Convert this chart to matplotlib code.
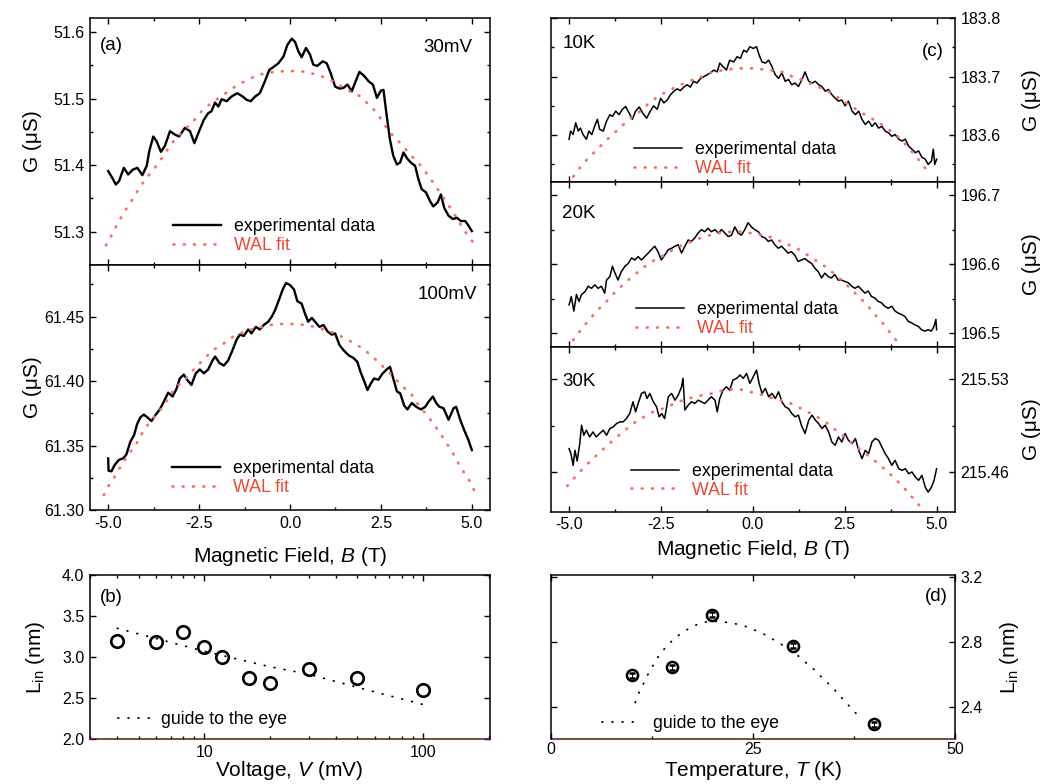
import numpy as np
import matplotlib
matplotlib.use("Agg")
import matplotlib.pyplot as plt
from matplotlib.ticker import MultipleLocator, FixedLocator, LogLocator, NullFormatter

plt.rcParams["font.family"] = ["Liberation Sans", "DejaVu Sans"]
plt.rcParams["axes.unicode_minus"] = False
plt.rcParams["mathtext.fontset"] = "custom"
plt.rcParams["mathtext.rm"] = "Liberation Sans"
plt.rcParams["mathtext.it"] = "Liberation Sans:italic"

# (a) 30 mV
b_30mv = [-5.00, -4.91, -4.79, -4.70, -4.57, -4.45, -4.33, -4.20, -4.06, -3.94,
          -3.87, -3.76, -3.67, -3.55, -3.44, -3.30, -3.17, -3.05, -2.89, -2.75,
          -2.63, -2.50, -2.37, -2.25, -2.16, -2.06, -1.97, -1.88, -1.74, -1.61,
          -1.45, -1.30, -1.19, -1.08, -0.96, -0.83, -0.69, -0.57, -0.44, -0.32,
          -0.18, -0.07, 0.05, 0.14, 0.23, 0.32, 0.44, 0.55, 0.64, 0.75,
          0.90, 1.01, 1.12, 1.24, 1.36, 1.47, 1.58, 1.70, 1.79, 1.91,
          2.04, 2.16, 2.28, 2.39, 2.50, 2.57, 2.66, 2.75, 2.84, 2.94,
          3.03, 3.12, 3.21, 3.32, 3.44, 3.53, 3.62, 3.74, 3.85, 3.94,
          4.06, 4.15, 4.24, 4.36, 4.48, 4.59, 4.70, 4.82, 4.91, 5.00]
g_30mv = [51.391, 51.383, 51.371, 51.376, 51.396, 51.386, 51.393, 51.396, 51.385, 51.399,
          51.421, 51.443, 51.436, 51.420, 51.429, 51.451, 51.446, 51.443, 51.456, 51.451,
          51.433, 51.451, 51.468, 51.478, 51.481, 51.494, 51.488, 51.499, 51.496, 51.503,
          51.508, 51.503, 51.498, 51.496, 51.503, 51.508, 51.526, 51.543, 51.548, 51.553,
          51.563, 51.581, 51.590, 51.585, 51.571, 51.562, 51.576, 51.566, 51.551, 51.549,
          51.556, 51.553, 51.538, 51.518, 51.515, 51.516, 51.521, 51.511, 51.524, 51.540,
          51.534, 51.526, 51.521, 51.501, 51.512, 51.513, 51.474, 51.438, 51.414, 51.401,
          51.404, 51.419, 51.411, 51.404, 51.399, 51.379, 51.364, 51.359, 51.346, 51.338,
          51.344, 51.356, 51.336, 51.324, 51.319, 51.321, 51.316, 51.316, 51.309, 51.301]
bfit_30mv = [-5.06, -4.93, -4.78, -4.62, -4.46, -4.29, -4.13, -3.94, -3.72, -3.53,
             -3.35, -3.17, -2.94, -2.66, -2.43, -2.16, -1.88, -1.61, -1.33, -1.06,
             -0.73, -0.37, 0.00, 0.37, 0.73, 1.10, 1.38, 1.65, 1.93, 2.16,
             2.39, 2.61, 2.84, 3.07, 3.30, 3.53, 3.74, 3.94, 4.13, 4.31,
             4.50, 4.66, 4.82, 5.03]
gfit_30mv = [51.2795, 51.2925, 51.3085, 51.3235, 51.3385, 51.352, 51.367, 51.381, 51.396, 51.41,
             51.425, 51.4385, 51.451, 51.466, 51.481, 51.4935, 51.5035, 51.5145, 51.5235, 51.531,
             51.5375, 51.5405, 51.5415, 51.5405, 51.536, 51.5285, 51.5195, 51.511, 51.5035, 51.491,
             51.4785, 51.4595, 51.4435, 51.431, 51.416, 51.4035, 51.3885, 51.3735, 51.3585, 51.3435,
             51.3285, 51.3135, 51.2995, 51.2845]

# (a) 100 mV
b_100mv = [-5.00, -4.99, -4.91, -4.82, -4.70, -4.59, -4.50, -4.39, -4.29, -4.20,
           -4.11, -4.02, -3.93, -3.81, -3.69, -3.58, -3.47, -3.35, -3.23, -3.12,
           -3.03, -2.92, -2.83, -2.71, -2.59, -2.48, -2.37, -2.25, -2.13, -2.06,
           -1.94, -1.82, -1.70, -1.58, -1.47, -1.38, -1.27, -1.15, -1.06, -0.94,
           -0.83, -0.72, -0.60, -0.50, -0.41, -0.29, -0.20, -0.11, 0.00, 0.11,
           0.20, 0.32, 0.41, 0.50, 0.60, 0.69, 0.81, 0.92, 1.03, 1.15,
           1.24, 1.36, 1.47, 1.61, 1.74, 1.85, 1.94, 2.04, 2.13, 2.22,
           2.31, 2.43, 2.55, 2.66, 2.75, 2.84, 2.94, 3.03, 3.14, 3.23,
           3.35, 3.47, 3.60, 3.72, 3.81, 3.93, 4.02, 4.11, 4.22, 4.36,
           4.50, 4.57, 4.68, 4.79, 4.91, 5.00]
g_100mv = [61.340, 61.3305, 61.330, 61.335, 61.339, 61.340, 61.343, 61.353, 61.358, 61.367,
           61.372, 61.374, 61.372, 61.369, 61.374, 61.378, 61.384, 61.391, 61.388, 61.394,
           61.402, 61.405, 61.401, 61.397, 61.406, 61.409, 61.406, 61.409, 61.416, 61.419,
           61.414, 61.412, 61.416, 61.424, 61.432, 61.436, 61.435, 61.440, 61.437, 61.442,
           61.440, 61.4435, 61.446, 61.450, 61.455, 61.464, 61.471, 61.476, 61.4745, 61.471,
           61.462, 61.460, 61.4525, 61.446, 61.449, 61.446, 61.442, 61.4435, 61.4385, 61.436,
           61.437, 61.428, 61.424, 61.420, 61.418, 61.415, 61.407, 61.400, 61.393, 61.398,
           61.402, 61.401, 61.406, 61.409, 61.411, 61.402, 61.392, 61.3905, 61.381, 61.378,
           61.383, 61.380, 61.378, 61.380, 61.384, 61.388, 61.383, 61.380, 61.379, 61.370,
           61.379, 61.380, 61.370, 61.362, 61.354, 61.3465]
bfit_100mv = [-5.12, -4.99, -4.82, -4.63, -4.45, -4.22, -3.99, -3.76, -3.49, -3.17,
              -2.89, -2.66, -2.39, -2.11, -1.88, -1.56, -1.24, -0.92, -0.55, -0.23,
              0.00, 0.28, 0.64, 0.96, 1.24, 1.51, 1.79, 2.06, 2.34, 2.57,
              2.84, 3.07, 3.35, 3.53, 3.76, 3.94, 4.13, 4.31, 4.48, 4.63,
              4.77, 4.95, 5.09]
gfit_100mv = [61.3116, 61.3186, 61.3259, 61.335, 61.3427, 61.3517, 61.3634, 61.3711, 61.3802, 61.3944,
              61.4009, 61.4086, 61.4164, 61.4241, 61.428, 61.4345, 61.4384, 61.441, 61.4435, 61.4443,
              61.4443, 61.444, 61.4422, 61.4397, 61.437, 61.433, 61.429, 61.424, 61.417, 61.411,
              61.4034, 61.3965, 61.3892, 61.3815, 61.3737, 61.3672, 61.3595, 61.3517, 61.344, 61.3362,
              61.3297, 61.322, 61.3137]

# (c) 10 K
b_10k = [-5.00, -4.96, -4.89, -4.82, -4.75, -4.69, -4.62, -4.53, -4.46, -4.38,
         -4.30, -4.23, -4.17, -4.07, -3.98, -3.89, -3.82, -3.73, -3.64, -3.55,
         -3.46, -3.37, -3.28, -3.19, -3.09, -3.00, -2.89, -2.79, -2.70, -2.60,
         -2.51, -2.42, -2.33, -2.24, -2.15, -2.06, -1.97, -1.88, -1.79, -1.70,
         -1.61, -1.52, -1.42, -1.33, -1.24, -1.15, -1.06, -0.97, -0.90, -0.81,
         -0.72, -0.63, -0.52, -0.43, -0.34, -0.25, -0.17, -0.08, 0.01, 0.10,
         0.17, 0.25, 0.34, 0.43, 0.52, 0.61, 0.70, 0.79, 0.88, 0.97,
         1.06, 1.15, 1.24, 1.35, 1.42, 1.52, 1.61, 1.70, 1.79, 1.88,
         1.97, 2.06, 2.15, 2.24, 2.33, 2.42, 2.51, 2.60, 2.70, 2.79,
         2.88, 2.97, 3.06, 3.15, 3.24, 3.33, 3.42, 3.51, 3.60, 3.69,
         3.78, 3.87, 3.97, 4.06, 4.15, 4.24, 4.33, 4.42, 4.51, 4.60,
         4.69, 4.77, 4.86, 4.91, 4.95, 5.00]
g_10k = [183.593, 183.607, 183.601, 183.621, 183.607, 183.612, 183.601, 183.593, 183.607, 183.601,
         183.616, 183.627, 183.610, 183.607, 183.624, 183.635, 183.632, 183.641, 183.635, 183.644,
         183.649, 183.638, 183.627, 183.641, 183.648, 183.638, 183.629, 183.641, 183.650, 183.644,
         183.663, 183.655, 183.660, 183.669, 183.675, 183.679, 183.676, 183.682, 183.686, 183.682,
         183.692, 183.689, 183.697, 183.700, 183.703, 183.707, 183.711, 183.708, 183.723, 183.717,
         183.711, 183.728, 183.725, 183.734, 183.731, 183.745, 183.742, 183.751, 183.748, 183.751,
         183.737, 183.725, 183.723, 183.728, 183.717, 183.703, 183.697, 183.706, 183.692, 183.695,
         183.686, 183.689, 183.683, 183.697, 183.708, 183.692, 183.689, 183.692, 183.686, 183.683,
         183.675, 183.678, 183.669, 183.663, 183.658, 183.660, 183.650, 183.658, 183.641, 183.635,
         183.641, 183.627, 183.618, 183.624, 183.615, 183.621, 183.612, 183.615, 183.607, 183.604,
         183.598, 183.601, 183.593, 183.590, 183.593, 183.581, 183.576, 183.570, 183.573, 183.562,
         183.559, 183.550, 183.556, 183.576, 183.550, 183.559]
bfit_10k = [-5.05, -4.85, -4.64, -4.39, -4.15, -3.89, -3.62, -3.37, -3.12, -2.85, -2.58,
            -2.30, -2.03, -1.76, -1.49, -1.22, -0.99, -0.72, -0.44, -0.17, 0.10,
            0.37, 0.60, 0.87, 1.10, 1.37, 1.64, 1.91, 2.14, 2.41, 2.69,
            2.91, 3.19, 3.46, 3.73, 4.00, 4.27, 4.50, 4.71]
gfit_10k = [183.515, 183.532, 183.550, 183.566, 183.581, 183.597, 183.612, 183.627, 183.638, 183.653, 183.666,
            183.676, 183.684, 183.692, 183.697, 183.705, 183.709, 183.712, 183.714, 183.714, 183.714,
            183.711, 183.710, 183.707, 183.699, 183.694, 183.686, 183.679, 183.672, 183.660, 183.649,
            183.640, 183.630, 183.620, 183.608, 183.595, 183.576, 183.559, 183.542]

# (c) 20 K
b_20k = [-5.00, -4.94, -4.87, -4.80, -4.73, -4.66, -4.57, -4.48, -4.39, -4.30,
         -4.21, -4.12, -4.03, -3.98, -3.89, -3.82, -3.75, -3.67, -3.58, -3.48,
         -3.39, -3.30, -3.21, -3.12, -3.03, -2.94, -2.85, -2.76, -2.67, -2.58,
         -2.49, -2.40, -2.30, -2.21, -2.12, -2.03, -1.94, -1.85, -1.76, -1.67,
         -1.58, -1.49, -1.40, -1.31, -1.22, -1.13, -1.03, -0.94, -0.85, -0.76,
         -0.67, -0.58, -0.49, -0.40, -0.31, -0.22, -0.13, -0.04, 0.05, 0.15,
         0.24, 0.33, 0.42, 0.51, 0.60, 0.69, 0.78, 0.87, 0.96, 1.05,
         1.14, 1.23, 1.32, 1.42, 1.51, 1.60, 1.69, 1.78, 1.87, 1.96,
         2.05, 2.14, 2.23, 2.32, 2.41, 2.50, 2.60, 2.69, 2.78, 2.87,
         2.96, 3.05, 3.14, 3.23, 3.32, 3.41, 3.50, 3.59, 3.68, 3.78,
         3.87, 3.96, 4.05, 4.14, 4.23, 4.32, 4.41, 4.50, 4.59, 4.68,
         4.77, 4.86, 4.93, 4.98, 5.00]
g_20k = [196.541, 196.553, 196.532, 196.556, 196.546, 196.556, 196.560, 196.568, 196.565, 196.570,
         196.565, 196.568, 196.558, 196.577, 196.582, 196.597, 196.587, 196.577, 196.589, 196.597,
         196.601, 196.609, 196.606, 196.611, 196.606, 196.611, 196.616, 196.621, 196.626, 196.618,
         196.606, 196.613, 196.621, 196.623, 196.626, 196.628, 196.616, 196.626, 196.635, 196.633,
         196.638, 196.645, 196.650, 196.647, 196.652, 196.647, 196.650, 196.645, 196.650, 196.645,
         196.640, 196.642, 196.654, 196.645, 196.642, 196.650, 196.660, 196.654, 196.650, 196.647,
         196.640, 196.638, 196.633, 196.635, 196.628, 196.623, 196.626, 196.621, 196.616, 196.618,
         196.613, 196.604, 196.606, 196.608, 196.604, 196.601, 196.594, 196.589, 196.580, 196.587,
         196.582, 196.580, 196.585, 196.577, 196.577, 196.575, 196.573, 196.568, 196.565, 196.568,
         196.563, 196.558, 196.561, 196.553, 196.551, 196.546, 196.544, 196.539, 196.536, 196.539,
         196.532, 196.529, 196.527, 196.524, 196.517, 196.515, 196.512, 196.510, 196.505, 196.503,
         196.505, 196.503, 196.510, 196.520, 196.505]
bfit_20k = [-4.89, -4.69, -4.46, -4.23, -4.00, -3.74, -3.48, -3.21, -2.96, -2.70,
            -2.42, -2.17, -1.90, -1.62, -1.37, -1.10, -0.83, -0.56, -0.31, -0.06,
            0.19, 0.44, 0.71, 0.98, 1.23, 1.49, 1.75, 2.01, 2.28, 2.55,
            2.80, 3.07, 3.32, 3.50, 3.73, 3.94]
gfit_20k = [196.490, 196.504, 196.519, 196.533, 196.545, 196.560, 196.573, 196.585, 196.596, 196.605,
            196.613, 196.621, 196.628, 196.634, 196.639, 196.643, 196.646, 196.647, 196.647, 196.645,
            196.643, 196.640, 196.634, 196.628, 196.622, 196.613, 196.604, 196.595, 196.583, 196.570,
            196.557, 196.543, 196.527, 196.517, 196.501, 196.487]

# (c) 30 K
b_30k = [-5.00, -4.95, -4.89, -4.84, -4.78, -4.71, -4.66, -4.60, -4.53, -4.44,
         -4.35, -4.26, -4.17, -4.07, -3.98, -3.89, -3.80, -3.71, -3.62, -3.53,
         -3.44, -3.35, -3.26, -3.19, -3.12, -3.03, -2.94, -2.88, -2.80, -2.71,
         -2.62, -2.55, -2.48, -2.40, -2.30, -2.21, -2.12, -2.03, -1.94, -1.90,
         -1.85, -1.76, -1.67, -1.58, -1.49, -1.40, -1.31, -1.22, -1.13, -1.03,
         -0.97, -0.90, -0.81, -0.72, -0.63, -0.54, -0.44, -0.35, -0.26, -0.17,
         -0.08, 0.01, 0.10, 0.17, 0.25, 0.34, 0.43, 0.52, 0.61, 0.70,
         0.79, 0.88, 0.97, 1.06, 1.15, 1.24, 1.32, 1.42, 1.52, 1.61,
         1.70, 1.79, 1.88, 1.97, 2.06, 2.15, 2.24, 2.33, 2.42, 2.51,
         2.60, 2.70, 2.79, 2.88, 2.97, 3.06, 3.15, 3.24, 3.33, 3.42,
         3.51, 3.60, 3.69, 3.78, 3.87, 3.97, 4.06, 4.15, 4.24, 4.33,
         4.42, 4.51, 4.60, 4.69, 4.77, 4.86, 4.93, 5.00]
g_30k = [215.4777, 215.4739, 215.4650, 215.4764, 215.4683, 215.4815, 215.4954, 215.4878, 215.4916, 215.4865,
         215.4903, 215.4865, 215.4891, 215.4916, 215.4878, 215.4929, 215.4941, 215.4966, 215.4979, 215.4979,
         215.5004, 215.5042, 215.5131, 215.5055, 215.5118, 215.5194, 215.5206, 215.5156, 215.5194, 215.5131,
         215.5093, 215.5017, 215.5042, 215.5004, 215.5169, 215.5194, 215.5143, 215.5181, 215.5244, 215.5308,
         215.5068, 215.5105, 215.5131, 215.5118, 215.5143, 215.5131, 215.5118, 215.5143, 215.5169, 215.5143,
         215.5055, 215.5156, 215.5219, 215.5244, 215.5219, 215.5295, 215.5308, 215.5333, 215.5308, 215.5345,
         215.5270, 215.5320, 215.5371, 215.5270, 215.5194, 215.5232, 215.5169, 215.5194, 215.5156, 215.5206,
         215.5131, 215.5093, 215.5080, 215.5042, 215.5017, 215.5030, 215.4954, 215.4891, 215.4992, 215.5030,
         215.4992, 215.4966, 215.4929, 215.4954, 215.4903, 215.4827, 215.4802, 215.4865, 215.4827, 215.4891,
         215.4840, 215.4815, 215.4853, 215.4764, 215.4701, 215.4764, 215.4739, 215.4827, 215.4853, 215.4840,
         215.4790, 215.4739, 215.4701, 215.4650, 215.4688, 215.4625, 215.4613, 215.4625, 215.4587, 215.4600,
         215.4562, 215.4537, 215.4575, 215.4486, 215.4448, 215.4486, 215.4537, 215.4625]
bfit_30k = [-5.05, -4.82, -4.57, -4.30, -4.03, -3.77, -3.50, -3.26, -2.99, -2.71,
            -2.44, -2.17, -1.91, -1.64, -1.37, -1.11, -0.85, -0.60, -0.34, -0.08,
            0.19, 0.46, 0.74, 0.99, 1.23, 1.49, 1.75, 2.01, 2.28, 2.53,
            2.78, 3.03, 3.30, 3.55, 3.82, 4.07, 4.29, 4.53]
gfit_30k = [215.4494, 215.4567, 215.4643, 215.4714, 215.4784, 215.4848, 215.4911, 215.4967, 215.5012, 215.5055,
            215.5080, 215.5113, 215.5143, 215.5164, 215.5181, 215.5194, 215.5214, 215.5224, 215.5224, 215.5206,
            215.5189, 215.5164, 215.5143, 215.5123, 215.5092, 215.5055, 215.5017, 215.4971, 215.4911, 215.4860,
            215.4800, 215.4745, 215.4690, 215.4630, 215.4562, 215.4494, 215.4423, 215.4347]

# (b) L_in vs voltage
voltage = [4, 6, 8, 10, 12, 16, 20, 30, 50, 100]
lin_v = [3.19, 3.18, 3.30, 3.12, 3.00, 2.74, 2.68, 2.85, 2.74, 2.60]
guide_v = [4, 10, 20, 30, 50, 100]
guide_lin_v = [3.35, 3.07, 2.88, 2.79, 2.63, 2.42]

# (d) L_in vs temperature
temp = [10, 15, 20, 30, 40]
lin_t = [2.594, 2.645, 2.968, 2.778, 2.29]
lin_t_err = [0.015, 0.015, 0.015, 0.015, 0.015]
guide_t = [10.46, 10.95, 11.53, 12.07, 12.77, 13.51, 14.58, 15.73, 16.97, 18.17,
           19.36, 20.56, 21.75, 22.95, 24.14, 25.34, 26.53, 27.73, 28.92, 30.12,
           31.31, 32.51, 33.66, 34.86, 35.97, 37.08, 38.15]
guide_lin_t = [2.426, 2.491, 2.548, 2.604, 2.665, 2.726, 2.788, 2.839, 2.880, 2.910,
               2.927, 2.928, 2.922, 2.912, 2.896, 2.872, 2.845, 2.810, 2.774, 2.737,
               2.682, 2.633, 2.575, 2.518, 2.456, 2.395, 2.338]

fit_color = "#f5735e"
fit_text = "#ee4630"
fs_tick = 11.5
fs_label = 15
fs_leg = 12.8
fs_tag = 13.5

fig = plt.figure(figsize=(10.46, 7.84), dpi=100)

W, H = 1046.0, 784.0


def add_ax(x0, x1, y0, y1):
    # pixel box -> figure fraction
    return fig.add_axes([x0 / W, 1 - y1 / H, (x1 - x0) / W, (y1 - y0) / H])


ax_a1 = add_ax(90, 490, 18, 265)
ax_a2 = add_ax(90, 490, 265, 510)
ax_c1 = add_ax(550.7, 955, 18, 182)
ax_c2 = add_ax(550.7, 955, 182, 347)
ax_c3 = add_ax(550.7, 955, 347, 511.7)
ax_b = add_ax(90, 490, 575, 739)
ax_d = add_ax(550.7, 955, 575, 739)

for ax in [ax_a1, ax_a2, ax_c1, ax_c2, ax_c3, ax_b, ax_d]:
    ax.tick_params(which="both", direction="in", top=True, right=True,
                   labelsize=fs_tick, width=1.0, pad=4)
    ax.tick_params(which="major", length=4.5)
    ax.tick_params(which="minor", length=2.5)
    for s in ax.spines.values():
        s.set_linewidth(1.1)


def g_panel(ax, b, g, bf, gf, lw, leg_xy):
    ax.plot(b, g, color="black", lw=lw, label="experimental data")
    ax.plot(bf, gf, color=fit_color, lw=2.0, ls=(0, (0.3, 3.4)),
            dash_capstyle="round", label="WAL fit")
    leg = ax.legend(loc="center left", bbox_to_anchor=leg_xy, frameon=False,
                    fontsize=fs_leg, handlelength=2.7, handletextpad=0.75,
                    labelspacing=0.1, borderpad=0, borderaxespad=0)
    leg.get_texts()[1].set_color(fit_text)
    ax.set_xlim(-5.5, 5.5)
    ax.xaxis.set_major_locator(MultipleLocator(2.5))
    ax.xaxis.set_minor_locator(MultipleLocator(1.25))
    ax.xaxis.set_major_formatter(plt.FormatStrFormatter("%.1f"))


# (a)
g_panel(ax_a1, b_30mv, g_30mv, bfit_30mv, gfit_30mv, 1.7, (0.207, 0.116))
ax_a1.set_ylim(51.25, 51.621)
ax_a1.yaxis.set_major_locator(MultipleLocator(0.1))
ax_a1.yaxis.set_minor_locator(MultipleLocator(0.05))
ax_a1.yaxis.set_major_formatter(plt.FormatStrFormatter("%.1f"))
ax_a1.tick_params(labelbottom=False)
ax_a1.set_ylabel("G (\u03bcS)", fontsize=fs_label)
ax_a1.yaxis.set_label_coords(-0.12, 0.5)
ax_a1.text(0.025, 0.89, "(a)", transform=ax_a1.transAxes, fontsize=fs_tag, va="center", ha="left")
ax_a1.text(0.957, 0.88, "30mV", transform=ax_a1.transAxes, fontsize=fs_tag, va="center", ha="right")

g_panel(ax_a2, b_100mv, g_100mv, bfit_100mv, gfit_100mv, 1.7, (0.204, 0.131))
ax_a2.set_ylim(61.30, 61.49)
ax_a2.yaxis.set_major_locator(FixedLocator([61.30, 61.35, 61.40, 61.45]))
ax_a2.yaxis.set_minor_locator(FixedLocator([61.325, 61.375, 61.425, 61.475]))
ax_a2.yaxis.set_major_formatter(plt.FormatStrFormatter("%.2f"))
ax_a2.set_ylabel("G (\u03bcS)", fontsize=fs_label)
ax_a2.yaxis.set_label_coords(-0.12, 0.5)
ax_a2.set_xlabel("Magnetic Field, $\\it{B}$ (T)", fontsize=fs_label)
ax_a2.xaxis.set_label_coords(0.5, -0.143)
ax_a2.text(0.967, 0.878, "100mV", transform=ax_a2.transAxes, fontsize=fs_tag, va="center", ha="right")

# (c)
g_panel(ax_c1, b_10k, g_10k, bfit_10k, gfit_10k, 1.1, (0.206, 0.139))
ax_c1.set_ylim(183.52, 183.8)
ax_c1.yaxis.set_major_locator(FixedLocator([183.6, 183.7, 183.8]))
ax_c1.yaxis.set_minor_locator(FixedLocator([183.55, 183.65, 183.75]))
ax_c1.yaxis.set_major_formatter(plt.FormatStrFormatter("%.1f"))
ax_c1.text(0.030, 0.846, "10K", transform=ax_c1.transAxes, fontsize=fs_tag, va="center", ha="left")
ax_c1.text(0.971, 0.795, "(c)", transform=ax_c1.transAxes, fontsize=fs_tag, va="center", ha="right")

g_panel(ax_c2, b_20k, g_20k, bfit_20k, gfit_20k, 1.1, (0.211, 0.168))
ax_c2.set_ylim(196.48, 196.719)
ax_c2.yaxis.set_major_locator(FixedLocator([196.5, 196.6, 196.7]))
ax_c2.yaxis.set_minor_locator(FixedLocator([196.55, 196.65]))
ax_c2.yaxis.set_major_formatter(plt.FormatStrFormatter("%.1f"))
ax_c2.text(0.027, 0.81, "20K", transform=ax_c2.transAxes, fontsize=fs_tag, va="center", ha="left")

g_panel(ax_c3, b_30k, g_30k, bfit_30k, gfit_30k, 1.1, (0.198, 0.188))
ax_c3.set_ylim(215.43, 215.5545)
ax_c3.yaxis.set_major_locator(FixedLocator([215.46, 215.53]))
ax_c3.yaxis.set_minor_locator(FixedLocator([215.495]))
ax_c3.yaxis.set_major_formatter(plt.FormatStrFormatter("%.2f"))
ax_c3.text(0.029, 0.789, "30K", transform=ax_c3.transAxes, fontsize=fs_tag, va="center", ha="left")
ax_c3.set_xlabel("Magnetic Field, $\\it{B}$ (T)", fontsize=fs_label)
ax_c3.xaxis.set_label_coords(0.5, -0.162)

for ax in [ax_c1, ax_c2, ax_c3]:
    ax.tick_params(labelleft=False, labelright=True)
    ax.yaxis.set_label_position("right")
    ax.set_ylabel("G (\u03bcS)", fontsize=fs_label)
    ax.yaxis.set_label_coords(1.166, 0.5)
for ax in [ax_c1, ax_c2]:
    ax.tick_params(labelbottom=False)

# (b)
ax_b.plot(guide_v, guide_lin_v, color="black", lw=1.3, ls=(0, (0.4, 5.2)),
          dash_capstyle="round", label="guide to the eye")
ax_b.plot(voltage, lin_v, "o", mfc="none", mec="black", mew=1.9, ms=9)
ax_b.set_xscale("log")
ax_b.set_xlim(3, 202)
ax_b.set_ylim(2.0, 4.0)
ax_b.xaxis.set_major_locator(FixedLocator([10, 100]))
ax_b.xaxis.set_minor_locator(LogLocator(base=10, subs=np.arange(2, 10)))
ax_b.xaxis.set_minor_formatter(NullFormatter())
ax_b.xaxis.set_major_formatter(plt.FormatStrFormatter("%d"))
ax_b.yaxis.set_major_locator(MultipleLocator(0.5))
ax_b.yaxis.set_major_formatter(plt.FormatStrFormatter("%.1f"))
ax_b.set_xlabel("Voltage, $\\it{V}$ (mV)", fontsize=fs_label)
ax_b.xaxis.set_label_coords(0.4975, -0.122)
ax_b.set_ylabel("L$_{\\rm in}$ (nm)", fontsize=fs_label)
ax_b.yaxis.set_label_coords(-0.1075, 0.5)
ax_b.legend(loc="center left", bbox_to_anchor=(0.07, 0.116), frameon=False,
            fontsize=fs_leg, handlelength=2.0, handletextpad=0.4,
            borderpad=0, borderaxespad=0)
ax_b.text(0.025, 0.86, "(b)", transform=ax_b.transAxes, fontsize=fs_tag, va="center", ha="left")

# (d)
ax_d.plot(guide_t, guide_lin_t, color="black", lw=1.3, ls=(0, (0.4, 5.2)),
          dash_capstyle="round", label="guide to the eye")
ax_d.errorbar(temp, lin_t, yerr=lin_t_err, fmt="o", mfc="none", mec="black",
              mew=1.8, ms=8, ecolor="black", elinewidth=0.7, capsize=2.0, capthick=0.7)
ax_d.set_xlim(0, 50)
ax_d.set_ylim(2.2, 3.215)
ax_d.xaxis.set_major_locator(MultipleLocator(25))
ax_d.xaxis.set_minor_locator(MultipleLocator(12.5))
ax_d.yaxis.set_major_locator(FixedLocator([2.4, 2.8, 3.2]))
ax_d.yaxis.set_major_formatter(plt.FormatStrFormatter("%.1f"))
ax_d.tick_params(labelleft=False, labelright=True)
ax_d.tick_params(axis="x", pad=2)
ax_d.yaxis.set_label_position("right")
ax_d.set_ylabel("L$_{\\rm in}$ (nm)", fontsize=fs_label)
ax_d.yaxis.set_label_coords(1.106, 0.5)
ax_d.set_xlabel("Temperature, $\\it{T}$ (K)", fontsize=fs_label)
ax_d.xaxis.set_label_coords(0.501, -0.122)
ax_d.legend(loc="center left", bbox_to_anchor=(0.126, 0.096), frameon=False,
            fontsize=fs_leg, handlelength=1.9, handletextpad=1.0,
            borderpad=0, borderaxespad=0)
ax_d.text(0.983, 0.868, "(d)", transform=ax_d.transAxes, fontsize=fs_tag, va="center", ha="right")

for ax in [ax_b, ax_d]:
    ax.spines["bottom"].set_color("#5a1a10")

fig.savefig("out.png", dpi=100)
